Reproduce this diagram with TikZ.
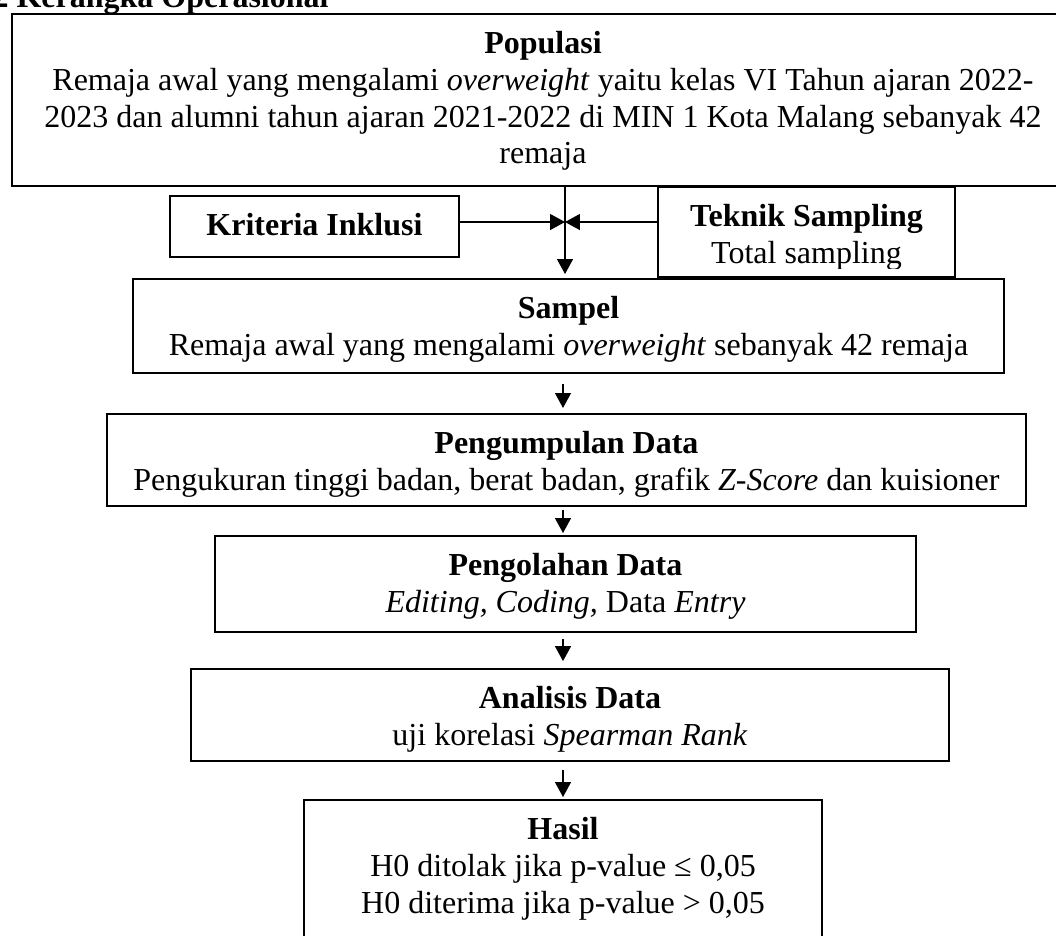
\documentclass[tikz,border=0pt]{standalone}
\usepackage{fontspec}
\setmainfont{Liberation Serif}
\usetikzlibrary{arrows.meta,positioning,fit}

% kotak dengan teks terpotong di tepi dalam bawah
\newcommand{\kotak}[4]{%
  \node[kotak, fit={#2 #3}] (#1) {};
  \begin{scope}
    \clip ([yshift=3.6pt]#1.south west) rectangle (#1.north east);
    \node[isi] (#1-isi) at ([yshift=-5.34pt]#1.north) {\strut #4};
  \end{scope}}

\begin{document}
\begin{tikzpicture}[x=0.375pt, y=-0.375pt,
    kotak/.style={draw, line width=0.75pt, inner sep=0pt},
    isi/.style={anchor=north, align=center, inner sep=0pt, font=\fontsize{12}{13.8}\selectfont},
    judul/.style={anchor=base west, inner sep=0pt, font=\fontsize{12}{13.8}\selectfont\bfseries},
    panah/.style={-{Triangle[length=5.6pt,width=6pt]}, line width=0.4pt}]

\path[use as bounding box, clip] (0,0) rectangle (1056,935);

% Judul
\node[judul] (judul) at (-8,7) {2 Kerangka Operasional};

% Kotak
\kotak{populasi}{(12,14)}{(1074,186)}{\textbf{Populasi}\\
  Remaja awal yang mengalami \textit{overweight} yaitu kelas VI Tahun ajaran 2022-\\
  2023 dan alumni tahun ajaran 2021-2022 di MIN 1 Kota Malang sebanyak 42\\
  remaja}
\kotak{kriteria}{(170,196)}{(459,257)}{\textbf{Kriteria Inklusi}}
\kotak{teknik}{(658,187)}{(955,277)}{\textbf{Teknik Sampling}\\ Total sampling}
\kotak{sampel}{(133,279)}{(1004,373)}{\textbf{Sampel}\\
  Remaja awal yang mengalami \textit{overweight} sebanyak 42 remaja}
\kotak{pengumpulan}{(107,414)}{(1026,506)}{\textbf{Pengumpulan Data}\\
  Pengukuran tinggi badan, berat badan, grafik \textit{Z-Score} dan kuisioner}
\kotak{pengolahan}{(215,536)}{(916,632)}{\textbf{Pengolahan Data}\\
  \textit{Editing, Coding,} Data \textit{Entry}}
\kotak{analisis}{(191,669)}{(949,761)}{\textbf{Analisis Data}\\
  uji korelasi \textit{Spearman Rank}}
\kotak{hasil}{(304,800)}{(822,960)}{\textbf{Hasil}\\
  H0 ditolak jika p-value ≤ 0,05\\
  H0 diterima jika p-value > 0,05}

% Panah
\coordinate (temu) at (565,222);
\coordinate (poros) at (563,0);
\draw[panah] (kriteria.east |- temu) -- (temu);
\draw[panah] (teknik.west |- temu) -- (temu);
\draw[panah, shorten >=1.5pt] (populasi.south -| temu) -- (sampel.north -| temu);
\draw[panah, shorten <=3.75pt, shorten >=1.9pt] (sampel.south -| poros) -- (pengumpulan.north -| poros);
\draw[panah, shorten <=1.1pt, shorten >=0.75pt] (pengumpulan.south -| poros) -- (pengolahan.north -| poros);
\draw[panah, shorten <=2.25pt, shorten >=2.6pt] (pengolahan.south -| poros) -- (analisis.north -| poros);
\draw[panah, shorten <=3pt, shorten >=0.75pt] (analisis.south -| poros) -- (hasil.north -| poros);
\end{tikzpicture}
\end{document}
